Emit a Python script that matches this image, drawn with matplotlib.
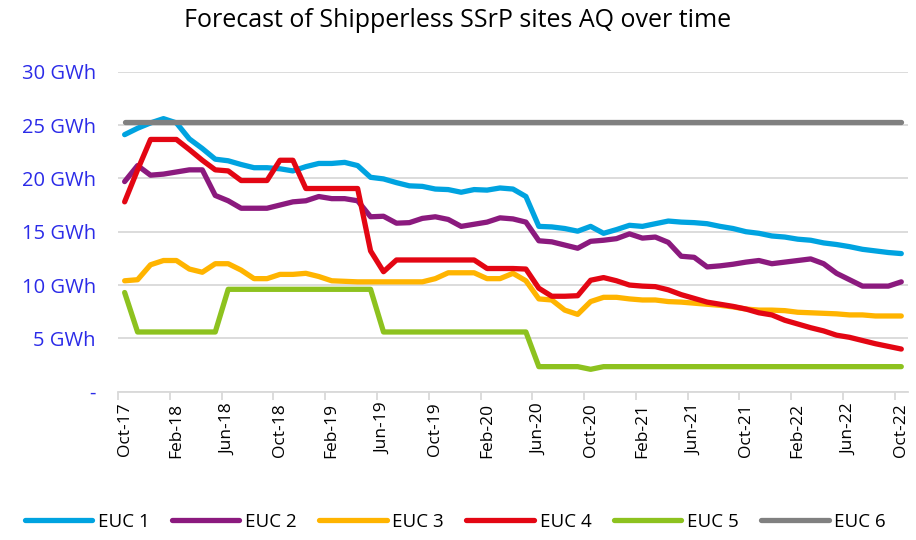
import matplotlib
matplotlib.use("Agg")
import matplotlib.pyplot as plt
import matplotlib.ticker as ticker

plt.rcParams["font.family"] = ["Open Sans", "DejaVu Sans"]

# monthly points, Oct-17 .. Oct-22
MONTHS = ["Jan", "Feb", "Mar", "Apr", "May", "Jun",
          "Jul", "Aug", "Sep", "Oct", "Nov", "Dec"]
month_labels = [f"{MONTHS[(9 + i) % 12]}-{17 + (9 + i) // 12}" for i in range(61)]

euc1 = [24.1, 24.7, 25.2, 25.6, 25.2, 23.7, 22.8, 21.8, 21.65, 21.3,
        21.0, 21.0, 20.9, 20.7, 21.1, 21.4, 21.4, 21.5, 21.2, 20.1,
        19.95, 19.6, 19.3, 19.25, 19.0, 18.95, 18.7, 18.95, 18.9, 19.1,
        19.0, 18.3, 15.5, 15.45, 15.3, 15.05, 15.5, 14.85, 15.2, 15.6,
        15.5, 15.75, 16.0, 15.9, 15.85, 15.75, 15.5, 15.3, 15.0, 14.85,
        14.6, 14.5, 14.3, 14.2, 13.95, 13.8, 13.6, 13.35, 13.2, 13.05,
        12.95]
euc2 = [19.7, 21.2, 20.3, 20.4, 20.6, 20.8, 20.8, 18.4, 17.9, 17.2,
        17.2, 17.2, 17.5, 17.8, 17.9, 18.3, 18.1, 18.1, 17.9, 16.4,
        16.45, 15.8, 15.85, 16.25, 16.4, 16.15, 15.5, 15.7, 15.9, 16.3,
        16.2, 15.9, 14.15, 14.05, 13.75, 13.45, 14.1, 14.2, 14.35, 14.8,
        14.4, 14.5, 14.0, 12.7, 12.6, 11.7, 11.8, 11.95, 12.15, 12.3,
        12.0, 12.15, 12.3, 12.45, 12.0, 11.1, 10.5, 9.9, 9.9, 9.9,
        10.3]
euc3 = [10.4, 10.5, 11.9, 12.3, 12.3, 11.5, 11.2, 12.0, 12.0, 11.4,
        10.6, 10.6, 11.0, 11.0, 11.1, 10.8, 10.4, 10.35, 10.3, 10.3,
        10.3, 10.3, 10.3, 10.3, 10.6, 11.15, 11.15, 11.15, 10.6, 10.6,
        11.1, 10.4, 8.7, 8.6, 7.65, 7.25, 8.45, 8.85, 8.85, 8.7,
        8.6, 8.6, 8.45, 8.4, 8.3, 8.2, 8.1, 7.95, 7.75, 7.65,
        7.65, 7.6, 7.45, 7.4, 7.35, 7.3, 7.2, 7.2, 7.1, 7.1,
        7.1]
euc4 = [17.8, 20.8, 23.65, 23.65, 23.65, 22.7, 21.7, 20.8, 20.7, 19.8,
        19.8, 19.8, 21.7, 21.7, 19.05, 19.05, 19.05, 19.05, 19.05, 13.2,
        11.25, 12.35, 12.35, 12.35, 12.35, 12.35, 12.35, 12.35, 11.55, 11.55,
        11.55, 11.5, 9.7, 8.95, 8.95, 9.0, 10.45, 10.7, 10.4, 10.0,
        9.9, 9.85, 9.55, 9.1, 8.75, 8.4, 8.2, 8.0, 7.75, 7.4,
        7.2, 6.7, 6.35, 6.0, 5.7, 5.3, 5.1, 4.8, 4.5, 4.25,
        4.0]
euc5 = [9.3, 5.6, 5.6, 5.6, 5.6, 5.6, 5.6, 5.6, 9.6, 9.6,
        9.6, 9.6, 9.6, 9.6, 9.6, 9.6, 9.6, 9.6, 9.6, 9.6,
        5.6, 5.6, 5.6, 5.6, 5.6, 5.6, 5.6, 5.6, 5.6, 5.6,
        5.6, 5.6, 2.35, 2.35, 2.35, 2.35, 2.1, 2.35, 2.35, 2.35,
        2.35, 2.35, 2.35, 2.35, 2.35, 2.35, 2.35, 2.35, 2.35, 2.35,
        2.35, 2.35, 2.35, 2.35, 2.35, 2.35, 2.35, 2.35, 2.35, 2.35,
        2.35]
euc6 = [25.25] * 61

series_names = ["EUC 1", "EUC 2", "EUC 3", "EUC 4", "EUC 5", "EUC 6"]
series_vals = [euc1, euc2, euc3, euc4, euc5, euc6]
COLORS = ["#00A3E0", "#8B1A7E", "#FFB400", "#E30613", "#8DC21F", "#808080"]

fig = plt.figure(figsize=(9.16, 5.4), dpi=100)
ax = fig.add_axes([0.129, 0.2746, 0.862, 0.5926])

x = list(range(len(month_labels)))
for name, vals, col in zip(series_names, series_vals, COLORS):
    ax.plot(x, vals, color=col, linewidth=3.8, label=name,
            solid_capstyle="round", solid_joinstyle="round")

ax.set_xlim(-0.5, len(x) - 0.5)
ax.set_ylim(0, 30)

# y axis: GWh labels, dash for zero
ax.yaxis.set_major_locator(ticker.MultipleLocator(5))
ax.yaxis.set_major_formatter(ticker.FuncFormatter(
    lambda v, _: "-" if v == 0 else f"{v:.0f} GWh"))
ax.tick_params(axis="y", length=0, labelsize=14.5, labelcolor="#2B2BE8")
for t in ax.yaxis.get_major_ticks():
    t.set_pad(16)
ax.grid(axis="y", color="#D9D9D9", linewidth=1.3)
ax.set_axisbelow(True)

# x axis: label every 4th month, tick marks between categories
ax.set_xticks(x[::4])
ax.set_xticklabels(month_labels[::4], rotation=90)
ax.set_xticks([i - 0.5 for i in x[::4]], minor=True)
ax.tick_params(axis="x", which="major", length=0, pad=8, labelsize=12.5)
ax.tick_params(axis="x", which="minor", length=6, width=1.3, color="#D9D9D9")

for side in ["top", "right", "left"]:
    ax.spines[side].set_visible(False)
ax.spines["bottom"].set_color("#D9D9D9")
ax.spines["bottom"].set_linewidth(1.3)

fig.text(0.5, 0.962, "Forecast of Shipperless SSrP sites AQ over time",
         ha="center", va="center", fontsize=18)

fig.legend(loc="center", bbox_to_anchor=(0.497, 0.034), ncol=6, frameon=False,
           fontsize=13.5, handlelength=3.6, columnspacing=1.2, handletextpad=0.3)

fig.savefig("out.png", dpi=100)
